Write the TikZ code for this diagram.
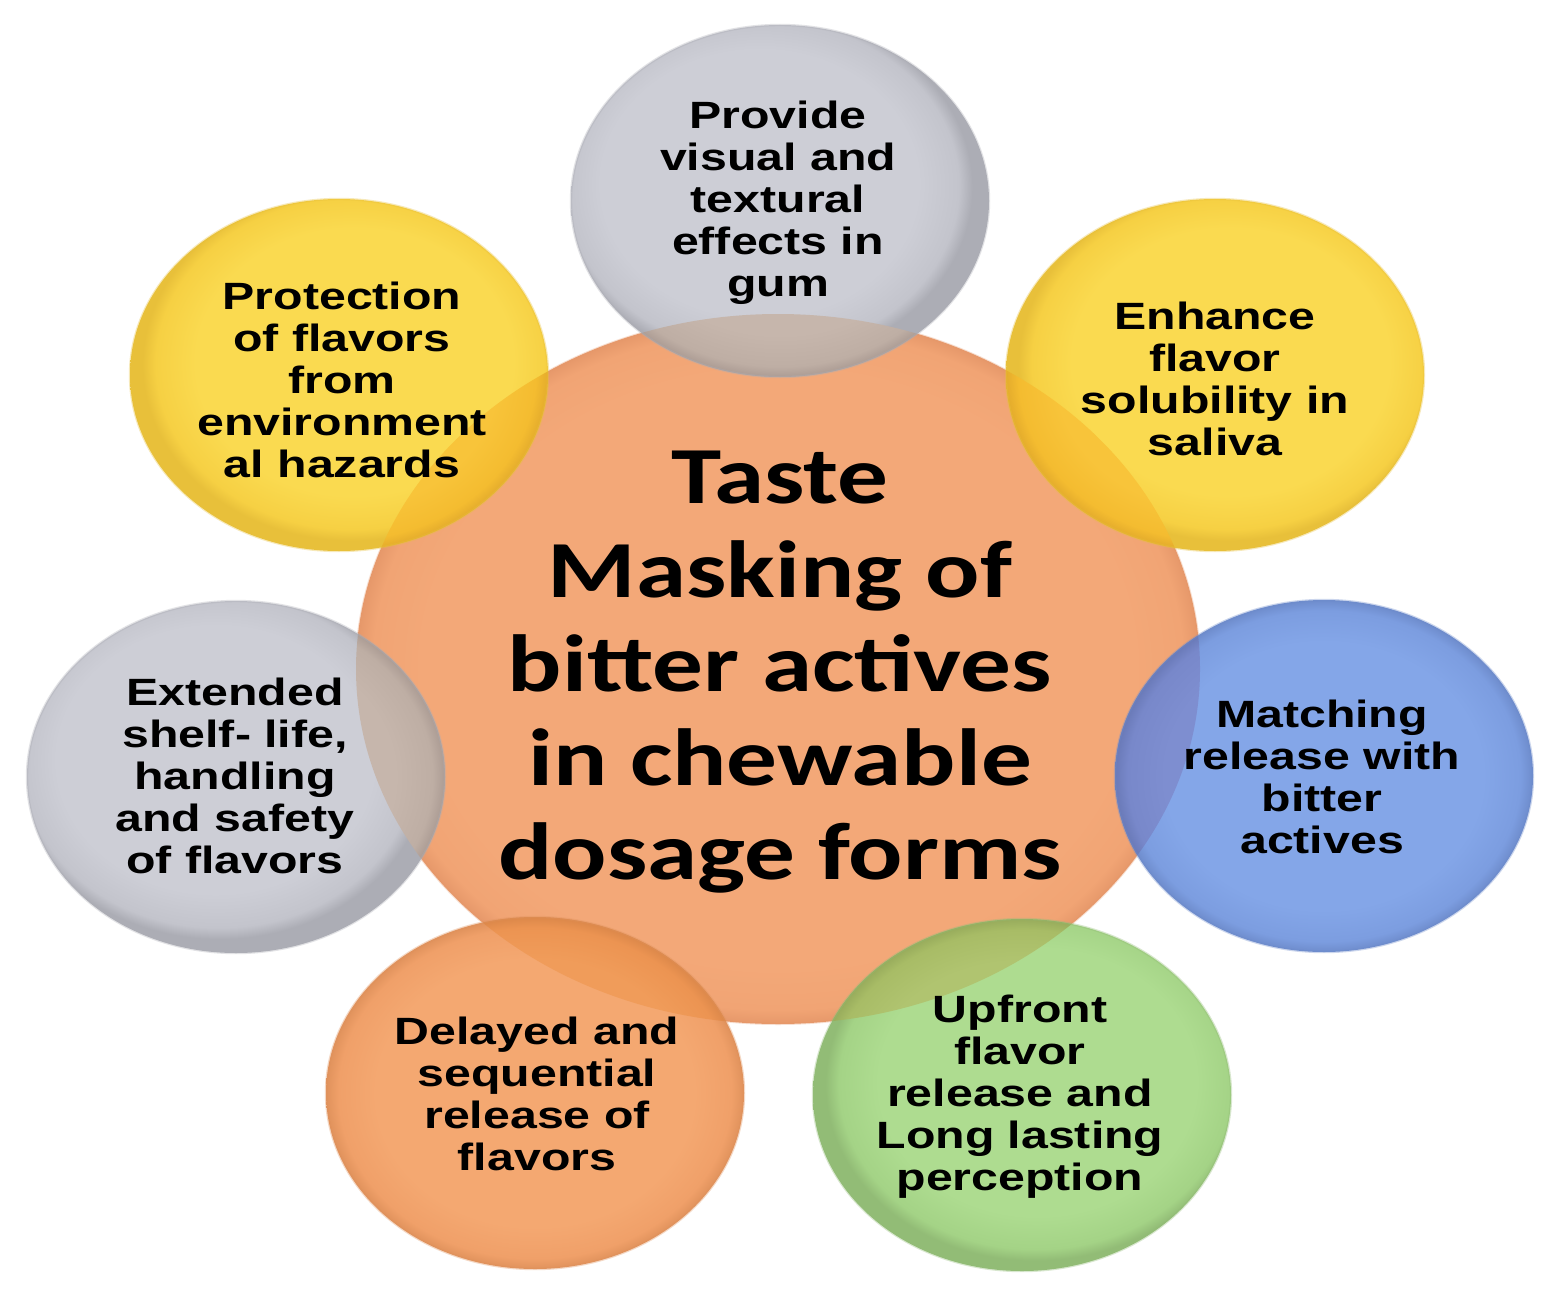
\documentclass[tikz,border=0pt]{standalone}
\usepackage{fontspec}
\newfontfamily\satfont[FakeStretch=1.27]{Liberation Sans}
\newfontfamily\cenfont[FakeStretch=1.25]{Carlito}
\definecolor{grayA}{HTML}{CDCED6}\definecolor{grayB}{HTML}{C3C4CC}\definecolor{grayC}{HTML}{ACADB5}
\definecolor{govA}{HTML}{C6B6AC}\definecolor{govB}{HTML}{BEAEA4}\definecolor{govC}{HTML}{AC9C94}
\definecolor{yelA}{HTML}{FADA50}\definecolor{yelB}{HTML}{F6D043}\definecolor{yelC}{HTML}{E8C03A}
\definecolor{yovA}{HTML}{F8C43A}\definecolor{yovB}{HTML}{F4BC30}\definecolor{yovC}{HTML}{E4AC2C}
\definecolor{bluA}{HTML}{84A6E8}\definecolor{bluB}{HTML}{7C9DE0}\definecolor{bluC}{HTML}{6E8CCC}
\definecolor{bovA}{HTML}{7E8ED0}\definecolor{bovB}{HTML}{7888CA}\definecolor{bovC}{HTML}{6A7AB8}
\definecolor{grnA}{HTML}{AEDC90}\definecolor{grnB}{HTML}{A4D386}\definecolor{grnC}{HTML}{92BC76}
\definecolor{novA}{HTML}{B0C470}\definecolor{novB}{HTML}{A8BC66}\definecolor{novC}{HTML}{98AC5C}
\definecolor{orgA}{HTML}{F4A871}\definecolor{orgB}{HTML}{F0A069}\definecolor{orgC}{HTML}{E0925C}
\definecolor{oovA}{HTML}{F09C5A}\definecolor{oovB}{HTML}{EC9452}\definecolor{oovC}{HTML}{DC884A}
\definecolor{cenA}{HTML}{F3A878}\definecolor{cenB}{HTML}{F1A474}\definecolor{cenC}{HTML}{E6986A}
\pgfdeclareradialshading{shgray}{\pgfpoint{-4bp}{4bp}}{color(0bp)=(grayA); color(19bp)=(grayA); color(23.5bp)=(grayB); color(25bp)=(grayC); color(50bp)=(grayC)}
\pgfdeclareradialshading{shgov}{\pgfpoint{0bp}{0bp}}{color(0bp)=(govA); color(19bp)=(govA); color(23.5bp)=(govB); color(25bp)=(govC); color(50bp)=(govC)}
\pgfdeclareradialshading{shyel}{\pgfpoint{3bp}{3bp}}{color(0bp)=(yelA); color(19bp)=(yelA); color(23.5bp)=(yelB); color(25bp)=(yelC); color(50bp)=(yelC)}
\pgfdeclareradialshading{shyov}{\pgfpoint{0bp}{0bp}}{color(0bp)=(yovA); color(19bp)=(yovA); color(23.5bp)=(yovB); color(25bp)=(yovC); color(50bp)=(yovC)}
\pgfdeclareradialshading{shblu}{\pgfpoint{0bp}{0bp}}{color(0bp)=(bluA); color(19bp)=(bluA); color(23.5bp)=(bluB); color(25bp)=(bluC); color(50bp)=(bluC)}
\pgfdeclareradialshading{shbov}{\pgfpoint{0bp}{0bp}}{color(0bp)=(bovA); color(19bp)=(bovA); color(23.5bp)=(bovB); color(25bp)=(bovC); color(50bp)=(bovC)}
\pgfdeclareradialshading{shgrn}{\pgfpoint{3bp}{3bp}}{color(0bp)=(grnA); color(19bp)=(grnA); color(23.5bp)=(grnB); color(25bp)=(grnC); color(50bp)=(grnC)}
\pgfdeclareradialshading{shnov}{\pgfpoint{0bp}{0bp}}{color(0bp)=(novA); color(19bp)=(novA); color(23.5bp)=(novB); color(25bp)=(novC); color(50bp)=(novC)}
\pgfdeclareradialshading{shorg}{\pgfpoint{0bp}{0bp}}{color(0bp)=(orgA); color(19bp)=(orgA); color(23.5bp)=(orgB); color(25bp)=(orgC); color(50bp)=(orgC)}
\pgfdeclareradialshading{shoov}{\pgfpoint{0bp}{0bp}}{color(0bp)=(oovA); color(19bp)=(oovA); color(23.5bp)=(oovB); color(25bp)=(oovC); color(50bp)=(oovC)}
\pgfdeclareradialshading{shcen}{\pgfpoint{0bp}{0bp}}{color(0bp)=(cenA); color(21bp)=(cenA); color(24bp)=(cenB); color(25bp)=(cenC); color(50bp)=(cenC)}
\newcommand\satdraw[5]{%
  \shade[shading=#3] (#1,#2) ellipse [x radius=104.5pt, y radius=88pt];
  \begin{scope}
    \clip (778,669) ellipse [x radius=211pt, y radius=177.5pt];
    \shade[shading=#4] (#1,#2) ellipse [x radius=104.5pt, y radius=88pt];
  \end{scope}
  \draw[#5, line width=1.2pt, opacity=0.35] (#1,#2) ellipse [x radius=104.5pt, y radius=88pt];
}
\begin{document}
\begin{tikzpicture}[x=0.5pt,y=-0.5pt,
  sattext/.style={font=\satfont\bfseries\fontsize{19pt}{21pt}\selectfont, align=center, inner sep=0pt, text=black},
  centext/.style={font=\cenfont\bfseries\fontsize{40.5pt}{47pt}\selectfont, align=center, inner sep=0pt, text=black}]
\useasboundingbox (0,0) rectangle (1561,1300);
\fill[white] (0,0) rectangle (1561,1300);
% central circle
\shade[shading=shcen] (778,669) ellipse [x radius=211pt, y radius=177.5pt];
\draw[cenC, line width=1pt, opacity=0.3] (778,669) ellipse [x radius=211pt, y radius=177.5pt];
% satellites
\satdraw{780}{201}{shgray}{shgov}{grayC}
\satdraw{1215}{375}{shyel}{shyov}{yelC}
\satdraw{1324}{776}{shblu}{shbov}{bluC}
\satdraw{1022}{1095}{shgrn}{shnov}{grnC}
\satdraw{535}{1093}{shorg}{shoov}{orgC}
\satdraw{236}{777}{shgray}{shgov}{grayC}
\satdraw{339}{375}{shyel}{shyov}{yelC}
% texts
\node[centext] (center) at (780,672) {Taste\\Masking of\\bitter actives\\in chewable\\dosage forms};
\node[sattext] (top) at (778,203) {Provide\\visual and\\textural\\effects in\\gum};
\node[sattext] (ur) at (1215,379) {Enhance\\flavor\\solubility in\\saliva};
\node[sattext] (r) at (1322,777) {Matching\\release with\\bitter\\actives};
\node[sattext] (br) at (1020,1097) {Upfront\\flavor\\release and\\Long lasting\\perception};
\node[sattext] (bl) at (537,1094) {Delayed and\\sequential\\release of\\flavors};
\node[sattext] (l) at (235,776) {Extended\\shelf- life,\\handling\\and safety\\of flavors};
\node[sattext] (ul) at (342,380) {Protection\\of flavors\\from\\environment\\al hazards};
\end{tikzpicture}
\end{document}
